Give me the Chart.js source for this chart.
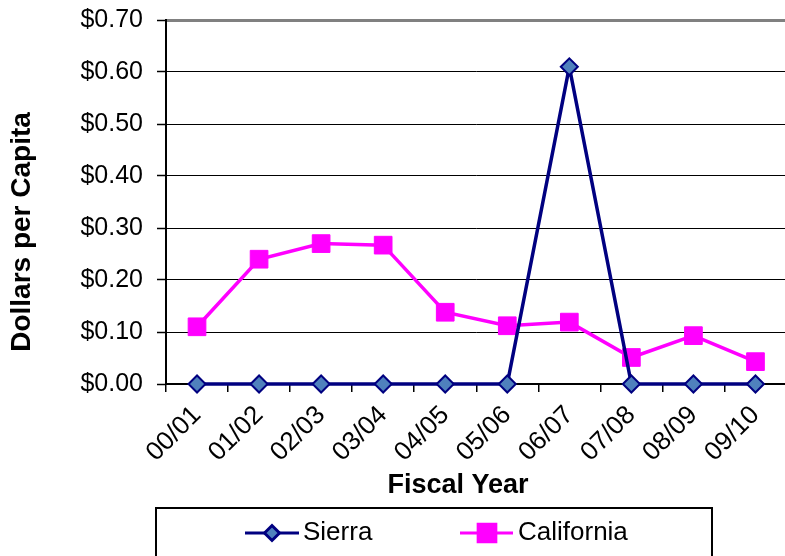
<!DOCTYPE html>
<html>
<head>
<meta charset="utf-8">
<script src="https://cdn.jsdelivr.net/npm/chart.js@4/dist/chart.umd.min.js"></script>
<style>
  html, body { margin: 0; padding: 0; background: #fff; overflow: hidden; }
  #wrap { width: 785px; height: 556px; overflow: hidden; }
  #wrap canvas { display: block; }
</style>
</head>
<body>
<div id="wrap"><canvas id="chart" width="800" height="556"></canvas></div>
<script>
const fiscalYears = ['00/01', '01/02', '02/03', '03/04', '04/05', '05/06', '06/07', '07/08', '08/09', '09/10'];
const sierra = [0, 0, 0, 0, 0, 0, 0.61, 0, 0, 0];
const california = [0.11, 0.24, 0.27, 0.267, 0.138, 0.112, 0.119, 0.051, 0.093, 0.043];
const yTicks = [0, 0.1, 0.2, 0.3, 0.4, 0.5, 0.6, 0.7];

const FONT = '"Liberation Sans", Arial, sans-serif';
const NAVY = '#000080';
const DIAMOND = '#4F81BD';
const MAGENTA = '#FF00FF';

// axis titles and the boxed legend underneath
const chartText = {
  id: 'chartText',
  afterDraw(chart) {
    const ctx = chart.ctx;
    ctx.save();
    ctx.fillStyle = '#000';
    ctx.textAlign = 'center';
    ctx.textBaseline = 'middle';
    ctx.font = 'bold 27px ' + FONT;
    ctx.fillText('Fiscal Year', 458, 486);

    ctx.save();
    ctx.font = 'bold 28px ' + FONT;
    ctx.translate(22, 232);
    ctx.rotate(-Math.PI / 2);
    ctx.fillText('Dollars per Capita', 0, 0);
    ctx.restore();

    // legend frame
    ctx.lineWidth = 2;
    ctx.strokeStyle = '#000';
    ctx.strokeRect(156, 508, 556, 70);

    const ds = chart.data.datasets;
    const entries = [
      { x0: 245, x1: 299, mx: 272, tx: 303, r: 7.5 },
      { x0: 460, x1: 513, mx: 487, tx: 518, r: 12.5 }
    ];
    const ly = 533;
    ctx.font = '26px ' + FONT;
    ctx.textAlign = 'left';
    entries.forEach((e, i) => {
      const d = ds[i];
      ctx.strokeStyle = d.borderColor;
      ctx.lineWidth = 3;
      ctx.beginPath();
      ctx.moveTo(e.x0, ly);
      ctx.lineTo(e.x1, ly);
      ctx.stroke();
      ctx.fillStyle = d.pointBackgroundColor;
      ctx.strokeStyle = d.pointBorderColor;
      Chart.helpers.drawPoint(ctx, {
        pointStyle: d.pointStyle,
        radius: e.r,
        rotation: 0,
        borderWidth: d.pointBorderWidth
      }, e.mx, ly);
      ctx.fillStyle = '#000';
      ctx.fillText(d.label, e.tx, ly);
    });
    ctx.restore();
  }
};

new Chart(document.getElementById('chart'), {
  type: 'line',
  data: {
    labels: fiscalYears,
    datasets: [
      {
        label: 'Sierra',
        data: sierra,
        borderColor: NAVY,
        borderWidth: 3.5,
        pointStyle: 'rectRot',
        pointRadius: 8.5,
        pointBackgroundColor: DIAMOND,
        pointBorderColor: NAVY,
        pointBorderWidth: 2,
        tension: 0,
        clip: false
      },
      {
        label: 'California',
        data: california,
        borderColor: MAGENTA,
        borderWidth: 3.5,
        pointStyle: 'rect',
        pointRadius: 12.5,
        pointBackgroundColor: MAGENTA,
        pointBorderColor: MAGENTA,
        pointBorderWidth: 1,
        tension: 0,
        clip: false
      }
    ]
  },
  options: {
    responsive: false,
    animation: false,
    layout: { padding: { top: 20, right: 10, left: 0, bottom: 0 } },
    scales: {
      x: {
        offset: true,
        afterFit: scale => { scale.height = 172; },
        grid: {
          offset: true,
          drawOnChartArea: false,
          color: '#000',
          tickLength: 8,
          lineWidth: 1.5
        },
        border: { color: '#000', width: 2 },
        ticks: {
          color: '#000',
          font: { family: FONT, size: 26 },
          minRotation: 45,
          maxRotation: 45,
          padding: 8,
          autoSkip: false
        }
      },
      y: {
        min: 0,
        max: 0.7,
        afterFit: scale => {
          scale.width = 166;
          scale.paddingTop = 0;
          scale.paddingBottom = 0;
        },
        afterBuildTicks: scale => { scale.ticks = yTicks.map(v => ({ value: v })); },
        grid: {
          color: c => (c.tick && c.tick.value === 0.7 ? '#808080' : '#000'),
          lineWidth: c => (c.tick && c.tick.value === 0.7 ? 3 : 1),
          tickColor: '#000',
          tickWidth: 1.5,
          tickLength: 9
        },
        border: { color: '#000', width: 2 },
        ticks: {
          color: '#000',
          font: { family: FONT, size: 25 },
          padding: 14,
          callback: v => '$' + Number(v).toFixed(2)
        }
      }
    },
    plugins: {
      legend: { display: false },
      tooltip: { enabled: false }
    }
  },
  plugins: [chartText]
});
</script>
</body>
</html>
